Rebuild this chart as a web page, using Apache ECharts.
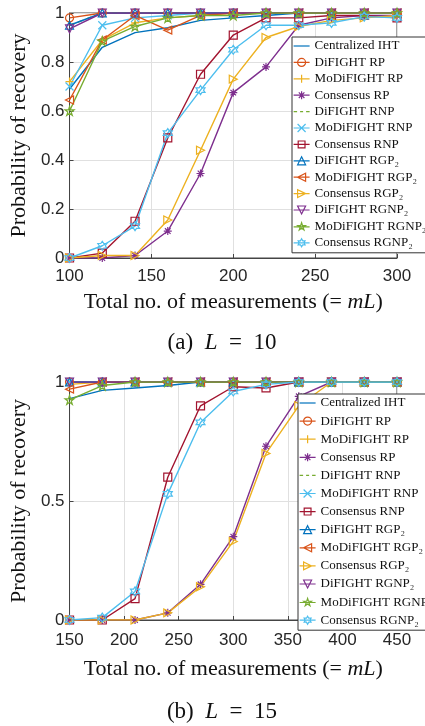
<!DOCTYPE html>
<html>
<head>
<meta charset="utf-8">
<script src="https://cdn.jsdelivr.net/npm/echarts@6/dist/echarts.min.js"></script>
<style>html,body{margin:0;padding:0;background:#fff;}#c{width:425px;height:726px;}</style>
</head>
<body>
<div id="c"></div>
<script>
// ---- data ----
const seriesNames = ['Centralized IHT','DiFIGHT RP','MoDiFIGHT RP','Consensus RP','DiFIGHT RNP','MoDiFIGHT RNP','Consensus RNP','DiFIGHT RGP\u2082','MoDiFIGHT RGP\u2082','Consensus RGP\u2082','DiFIGHT RGNP\u2082','MoDiFIGHT RGNP\u2082','Consensus RGNP\u2082'];

const xL10 = [100,120,140,160,180,200,220,240,260,280,300];
const xL15 = [150,180,210,240,270,300,330,360,390,420,450];
const xTicksL10 = [100,150,200,250,300];
const xTicksL15 = [150,200,250,300,350,400,450];
const yTicksL10 = [0,0.2,0.4,0.6,0.8,1];
const yTicksL15 = [0,0.5,1];

// L = 10
const centralizedIHT_10 = [0.69,0.86,0.92,0.94,0.97,0.98,0.99,1,1,1,1];
const difightRP_10      = [0.98,1,1,1,1,1,1,1,1,1,1];
const modifightRP_10    = [0.72,0.89,0.96,0.98,0.99,1,1,1,1,1,1];
const consensusRP_10    = [0,0,0.01,0.11,0.345,0.675,0.78,0.95,0.98,0.99,0.99];
const difightRNP_10     = [0.95,1,1,1,1,1,1,1,1,1,1];
const modifightRNP_10   = [0.70,0.95,0.98,0.99,1,1,1,1,1,1,1];
const consensusRNP_10   = [0,0.02,0.15,0.49,0.75,0.91,0.98,0.98,0.99,0.99,0.98];
const difightRGP2_10    = [0.95,1,1,1,1,1,1,1,1,1,1];
const modifightRGP2_10  = [0.645,0.89,0.99,0.93,0.99,1,1,1,1,1,1];
const consensusRGP2_10  = [0,0.01,0.01,0.155,0.44,0.73,0.90,0.945,0.97,0.98,0.99];
const difightRGNP2_10   = [0.935,1,1,1,1,1,1,1,1,1,1];
const modifightRGNP2_10 = [0.60,0.885,0.945,0.98,0.99,0.99,1,1,1,1,1];
const consensusRGNP2_10 = [0,0.05,0.13,0.51,0.685,0.85,0.95,0.95,0.96,0.985,0.98];

// L = 15
const centralizedIHT_15 = [0.93,0.965,0.975,0.985,1,1,1,1,1,1,1];
const difightRP_15      = [1,1,1,1,1,1,1,1,1,1,1];
const modifightRP_15    = [0.99,1,1,1,1,1,1,1,1,1,1];
const consensusRP_15    = [0,0,0,0.03,0.15,0.35,0.73,0.94,1,1,1];
const difightRNP_15     = [1,1,1,1,1,1,1,1,1,1,1];
const modifightRNP_15   = [1,1,1,1,1,1,1,1,1,1,1];
const consensusRNP_15   = [0,0,0.09,0.60,0.90,0.98,0.975,1,1,1,1];
const difightRGP2_15    = [1,1,1,1,1,1,1,1,1,1,1];
const modifightRGP2_15  = [0.97,1,1,1,1,1,1,1,1,1,1];
const consensusRGP2_15  = [0,0,0,0.03,0.14,0.33,0.70,0.90,1,1,1];
const difightRGNP2_15   = [1,1,1,1,1,1,1,1,1,1,1];
const modifightRGNP2_15 = [0.925,0.985,1,1,1,1,1,1,1,1,1];
const consensusRGNP2_15 = [0,0.01,0.12,0.53,0.83,0.96,0.99,1,1,1,1];

const dataL10 = [centralizedIHT_10,difightRP_10,modifightRP_10,consensusRP_10,difightRNP_10,modifightRNP_10,consensusRNP_10,difightRGP2_10,modifightRGP2_10,consensusRGP2_10,difightRGNP2_10,modifightRGNP2_10,consensusRGNP2_10];
const dataL15 = [centralizedIHT_15,difightRP_15,modifightRP_15,consensusRP_15,difightRNP_15,modifightRNP_15,consensusRNP_15,difightRGP2_15,modifightRGP2_15,consensusRGP2_15,difightRGNP2_15,modifightRGNP2_15,consensusRGNP2_15];

// ---- marker shapes (unit coordinates, -1..1) ----
function starPts(n, rIn) {
  const p = [];
  for (let k = 0; k < 2 * n; k++) {
    const a = (-90 + k * 180 / n) * Math.PI / 180;
    const r = k % 2 === 0 ? 1 : rIn;
    p.push([r * Math.cos(a), r * Math.sin(a)]);
  }
  return p;
}
const SHAPES = {
  plus:   {open: [[[0,-1],[0,1]], [[-1,0],[1,0]]]},
  cross:  {open: [[[-1,-1],[1,1]], [[-1,1],[1,-1]]]},
  aster:  {open: [[[0,-1],[0,1]], [[-1,0],[1,0]], [[-0.7,-0.7],[0.7,0.7]], [[-0.7,0.7],[0.7,-0.7]]]},
  up:     {closed: [[0,-1],[1,1],[-1,1]]},
  down:   {closed: [[-1,-1],[1,-1],[0,1]]},
  left:   {closed: [[1,-1],[1,1],[-1,0]]},
  right:  {closed: [[-1,-1],[-1,1],[1,0]]},
  square: {closed: [[-0.85,-0.85],[0.85,-0.85],[0.85,0.85],[-0.85,0.85]]},
  penta:  {closed: starPts(5, 0.382)},
  hexa:   {closed: starPts(6, 0.577)},
  circle: {circle: true}
};
function f(v) { return (Math.round(v * 1000) / 1000).toString(); }
function shapePath(name, cx, cy, r) {
  const s = SHAPES[name];
  if (s.circle) {
    return 'M' + f(cx + r) + ',' + f(cy) + 'A' + f(r) + ',' + f(r) + ' 0 1 1 ' + f(cx - r) + ',' + f(cy) +
           'A' + f(r) + ',' + f(r) + ' 0 1 1 ' + f(cx + r) + ',' + f(cy) + 'Z';
  }
  if (s.open) {
    return s.open.map(seg => seg.map((p, i) => (i ? 'L' : 'M') + f(cx + p[0] * r) + ',' + f(cy + p[1] * r)).join('')).join('');
  }
  return s.closed.map((p, i) => (i ? 'L' : 'M') + f(cx + p[0] * r) + ',' + f(cy + p[1] * r)).join('') + 'Z';
}

// ---- styles ----
const C = {blue:'#0072BD',orange:'#D95319',yellow:'#EDB120',purple:'#7E2F8E',green:'#77AC30',cyan:'#4DBEEE',red:'#A2142F'};
const styles = [
  [C.blue,'none',false],[C.orange,'circle',false],[C.yellow,'plus',false],[C.purple,'aster',false],
  [C.green,'none',true],[C.cyan,'cross',false],[C.red,'square',false],[C.blue,'up',false],
  [C.orange,'left',false],[C.yellow,'right',false],[C.purple,'down',false],[C.green,'penta',false],[C.cyan,'hexa',false]
];

const serif = '"Liberation Serif", "DejaVu Serif", serif';
const sans = '"Liberation Sans", Arial, sans-serif';
const axisCol = '#444';
const LW = 16, LH = 8; // legend icon size

function legendIcon(sym, dashed) {
  const cy = LH / 2;
  let p;
  if (dashed) p = 'M0,' + cy + 'L3.5,' + cy + 'M6.5,' + cy + 'L9.5,' + cy + 'M12.5,' + cy + 'L16,' + cy;
  else p = 'M0,' + cy + 'L' + LW + ',' + cy;
  if (sym === 'none') p += 'M8,0L8,0M8,' + LH + 'L8,' + LH;
  else p += shapePath(sym, LW / 2, cy, LH / 2);
  return 'path://' + p;
}

function buildSeries(xs, data, g) {
  return seriesNames.map((name, i) => {
    const [col, sym, dashed] = styles[i];
    return {
      type: 'line', name, xAxisIndex: g, yAxisIndex: g,
      data: xs.map((x, k) => [x, data[i][k]]),
      symbol: sym === 'none' ? 'none' : 'path://' + shapePath(sym, 5, 5, 5),
      symbolSize: sym === 'penta' || sym === 'hexa' ? 9 : 8,
      showSymbol: sym !== 'none',
      lineStyle: {color: col, width: 1.4, type: dashed ? [5,4] : 'solid'},
      itemStyle: {color: 'rgba(255,255,255,0)', borderColor: col, borderWidth: 1.2},
      emphasis: {disabled: true},
      animation: false
    };
  });
}

function xAx(g, ticks, labelMargin, nameGap) {
  return {
    type: 'value', gridIndex: g, min: ticks[0], max: ticks[ticks.length - 1], interval: ticks[1] - ticks[0],
    name: 'Total no. of measurements (= {i|mL})', nameLocation: 'middle', nameGap: nameGap,
    nameTextStyle: {fontFamily: serif, fontSize: 22, color: '#111',
      rich: {i: {fontFamily: serif, fontSize: 22, fontStyle: 'italic', color: '#111'}}},
    axisLine: {show: true, lineStyle: {color: axisCol, width: 1}},
    axisTick: {show: true, inside: true, length: 4, lineStyle: {color: axisCol}},
    axisLabel: {fontFamily: sans, fontSize: 17, color: '#262626', margin: labelMargin},
    splitLine: {show: true, lineStyle: {color: '#e0e0e0', width: 1}}
  };
}
function yAx(g, ticks) {
  return {
    type: 'value', gridIndex: g, min: ticks[0], max: ticks[ticks.length - 1], interval: ticks[1] - ticks[0],
    name: 'Probability of recovery', nameLocation: 'middle', nameGap: 35, nameRotate: 90,
    nameTextStyle: {fontFamily: serif, fontSize: 22, color: '#111'},
    axisLine: {show: true, lineStyle: {color: axisCol, width: 1}},
    axisTick: {show: true, inside: true, length: 4, lineStyle: {color: axisCol}},
    axisLabel: {fontFamily: sans, fontSize: 17, color: '#262626', margin: 5},
    splitLine: {show: true, lineStyle: {color: '#e0e0e0', width: 1}}
  };
}
function legend(left, top, gap) {
  return {
    show: true, orient: 'vertical', left, top,
    data: seriesNames.map((name, i) => {
      const [col, sym, dashed] = styles[i];
      return {name, icon: legendIcon(sym, dashed),
        itemStyle: {color: 'rgba(255,255,255,0)', borderColor: col, borderWidth: 1.2}};
    }),
    itemWidth: LW, itemHeight: LH, itemGap: gap,
    padding: [2, 12, 3, 1],
    backgroundColor: '#fff', borderColor: '#333', borderWidth: 1, borderRadius: 0,
    textStyle: {fontFamily: serif, fontSize: 13, color: '#111', lineHeight: 14},
    selectedMode: false
  };
}

const chart = echarts.init(document.getElementById('c'), null, {renderer: 'canvas'});
chart.setOption({
  animation: false,
  backgroundColor: '#fff',
  grid: [
    {left: 62, top: 13, width: 335, height: 245, show: true, borderColor: axisCol, borderWidth: 1, backgroundColor: 'transparent'},
    {left: 62, top: 382, width: 335, height: 238, show: true, borderColor: axisCol, borderWidth: 1, backgroundColor: 'transparent'}
  ],
  xAxis: [xAx(0, xTicksL10, 10, 33), xAx(1, xTicksL15, 12, 38)],
  yAxis: [yAx(0, yTicksL10), yAx(1, yTicksL15)],
  legend: [legend(292, 37, 2.4), legend(298, 394, 4.1)],
  series: buildSeries(xL10, dataL10, 0).concat(buildSeries(xL15, dataL15, 1)),
  graphic: [
    {type: 'text', x: 222, y: 343, style: {text: '(a)\u2002{i|L}\u2002=\u200210', font: '23px ' + serif, fill: '#111', align: 'center', verticalAlign: 'middle',
      rich: {i: {fontStyle: 'italic', fontSize: 23, fontFamily: serif}}}},
    {type: 'text', x: 222, y: 712, style: {text: '(b)\u2002{i|L}\u2002=\u200215', font: '23px ' + serif, fill: '#111', align: 'center', verticalAlign: 'middle',
      rich: {i: {fontStyle: 'italic', fontSize: 23, fontFamily: serif}}}}
  ]
});
</script>
</body>
</html>
